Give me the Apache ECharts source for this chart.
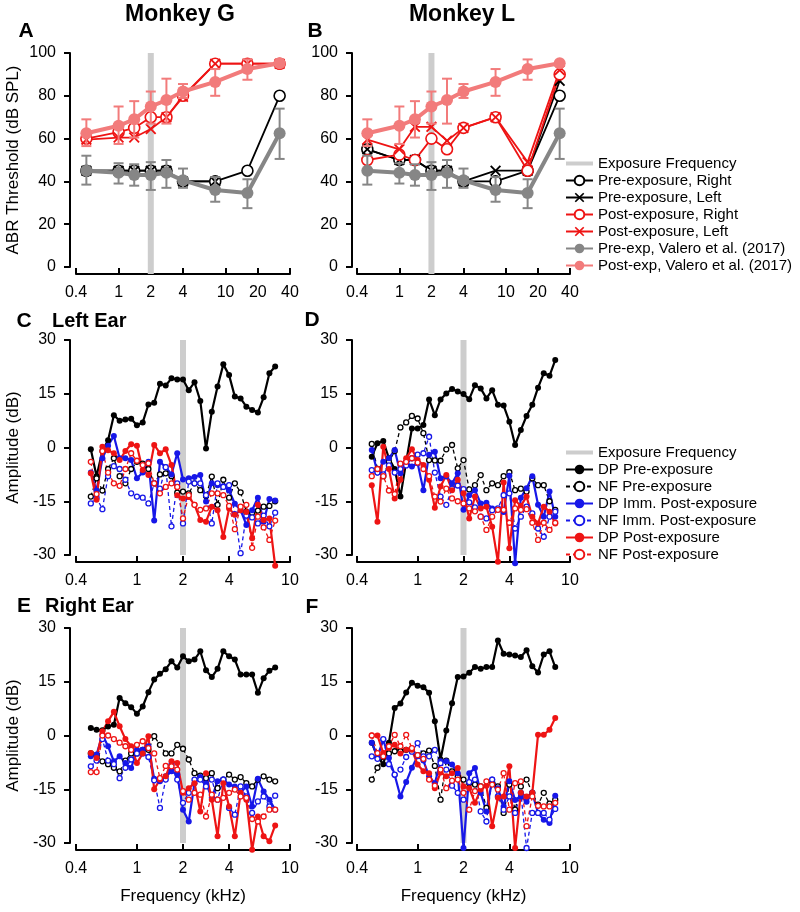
<!DOCTYPE html>
<html><head><meta charset="utf-8">
<script src="https://cdn.jsdelivr.net/npm/echarts@6/dist/echarts.min.js"></script>
<style>html,body{margin:0;padding:0;background:#fff}#chart{width:800px;height:912px}</style>
</head><body><div id="chart"></div>
<script>
// ---------- ABR data (panels A, B) ----------
const abrFreqs = [0.5, 1, 1.4, 2, 2.8, 4, 8, 16, 32];
const abrTicks = [0.4, 1, 2, 4, 10, 20, 40];
const exposureFreq = 2;

const gPreRight  = [45, 45, 45, 45, 45, 40, 40, 45, 80];
const gPreLeft   = [45, 45, 45, 45, 45, 40, 40, null, null];
const gPostRight = [60, 63, 65, 70, 70, 80, 95, 95, 95];
const gPostLeft  = [59.5, 60.5, 60.5, 64.5, 70, 79.5, 95, 95, 95];

const lPreRight  = [55, 50, 50, 45, 45, 40, 40, 45, 80];
const lPreLeft   = [55, 50, 50, 45, 45, 40, 45, 45, 87];
const lPostRight = [50, 52.5, 50, 60, 55, 65, 70, 45, 90];
const lPostLeft  = [59.5, 55, 65.5, 65.5, 59, 65, 70, 49, 92];

const valeroPre   = [45, 44, 43, 43, 44, 40.5, 36, 34.6, 62.5];
const valeroPreLo = [38.5, 39, 38, 36, 37, 37, 30.5, 27.5, 50.5];
const valeroPreHi = [52, 48.5, 48, 49, 50, 46, 42, 41, 74];
const valeroPost   = [62.5, 66, 69, 75, 78, 82, 86.5, 92.5, 95.2];
const valeroPostLo = [56.5, 57.5, 60.5, 67, 67, 79, 80, 87.5, null];
const valeroPostHi = [69, 75, 77.5, 82, 88, 85.5, 92.5, 97, null];

// ---------- DPOAE data (panels C-F) ----------
const dpFreqs = [0.5, 0.545, 0.595, 0.648, 0.707, 0.771, 0.841, 0.917, 1.0, 1.091, 1.189, 1.297, 1.414,
  1.542, 1.682, 1.834, 2.0, 2.181, 2.378, 2.594, 2.828, 3.084, 3.364, 3.668, 4.0, 4.362, 4.757, 5.187,
  5.657, 6.169, 6.727, 7.336, 8.0];
const dpTicks = [0.4, 1, 2, 4, 10];

// C: Monkey G, left ear
const cDpPre  = [-0.5, -8, -1, 2, 9, 7.5, 7.8, 8, 6.2, 7, 12, 12.5, 17.8, 17.3, 19.3, 19, 19, 16, 18.2, 13, -0.3, 10, 17, 23.2, 20.2, 14.2, 13.7, 11.4, 10.5, 9.8, 14, 20.7, 22.6];
const cNfPre  = [-13.7, -8.6, -12, -6, -3, -8, -10, -6, -4, -4.5, -6, -10, -7.5, -7.2, -8, -12.6, -12.3, -12.8, -10, -11.9, -13.5, -8.1, -16, -9, -14, -10, -12.5, -18, -18.2, -17.6, -16.5, -16.3, -15];
const cDpImm  = [-7, -12, -3, 0.5, 3.2, -3, -3, -3.5, -8.6, -7, -4, -20.4, -4, -5.5, -7.5, -1.6, -8.9, -8.6, -8.2, -7.7, -15.1, -10, -10.5, -10.8, -12, -15.7, -17.5, -21.6, -17.5, -14, -20.7, -14.4, -14.8];
const cNfImm  = [-15.6, -14, -17.2, -8, -5.2, -6, -9, -12.8, -13.7, -14, -15.6, -10, -11.5, -5.5, -22, -10, -21.2, -9.5, -10, -10, -13.3, -21.2, -10, -11, -10.5, -18.6, -29.5, -19, -19.5, -21.2, -19, -22, -18.2];
const cDpPost = [-7.2, -14.6, 0.2, -0.8, -1.6, -3.5, -1, 0.9, 0.5, -6.3, -7.7, 0.7, -1.6, -0.5, -4.9, -13.3, -14.2, -13.8, -16, -20.2, -20.7, -16.5, -17.5, -25, -17, -18.8, -17.5, -18, -25.3, -16, -20.2, -19.8, -33];
const cNfPost = [-4, -13, -1, -7, -10, -10.7, -6, -1.6, -3.7, -4.9, -4.4, -10, -12.8, -11, -10, -11, -19.8, -13.3, -16, -17.4, -17, -12.8, -12.8, -13.3, -16.3, -22.8, -16.5, -16, -28, -19.3, -22.3, -25.8, -20.4];

// D: Monkey L, left ear
const dDpPre  = [-2.6, 1.2, 1.8, -3, -6, -13.7, -4, 5.3, 5.3, 6.3, 13.4, 9, 13.4, 15.1, 16.3, 15.6, 14.9, 13.5, 17.4, 16.5, 13.7, 16, 11.9, 11.7, 7.2, 0.7, 4.9, 8.8, 11.9, 16.7, 20.7, 20, 24.4];
const dNfPre  = [1, -6, -8, -4, -1, 5.6, 7, 8.8, 8.1, 4, -3.5, -3.6, -3.7, -0.5, 0.7, -5.8, -3.5, -11.7, -10.5, -7.7, -11.9, -10, -10.5, -8, -6.9, -11.9, -11.5, -12.3, -8.6, -10.5, -10.5, -15, -17.4];
const dDpImm  = [-0.7, -7, -4, -3, -0.7, -7.2, -4, -5.3, -4.4, -11.9, -2, -1.2, -8.6, -8.1, -10, -7.2, -17.4, -13.3, -11.9, -15.6, -15.4, -17, -17.4, -18, -7.9, -32.3, -14, -11.4, -8, -16, -19.3, -12.3, -19.3];
const dNfImm  = [-6.3, -7, -7.5, -5, -7, -6, -5, -3, -2, -1.6, 3, -7, -13.7, -16, -11.5, -10.6, -11.6, -15.3, -16.7, -19.3, -19.8, -17.5, -17, -13.3, -12.8, -22.6, -19.3, -16.5, -18.4, -22.6, -24.9, -19.3, -17.9];
const dDpPost = [-10.5, -20.7, 0.2, -6, -14.2, -9, -3, -0.5, -3.5, -4.9, -9, -16.8, -10.9, -7.7, -11.9, -9, -12.8, -19.8, -13.7, -17, -16.5, -22.1, -31.9, -9.8, -28.1, -14.7, -16.3, -13.7, -19.3, -21.2, -16.5, -17.9, -21.2];
const dNfPost = [-8, -6, -8, -12, -13, -4.5, -4, -3, -4.2, -6, -8, -13.7, -15.1, -11.5, -14.2, -15, -15.6, -17, -17.8, -19.3, -23, -19.3, -17.4, -17.4, -21, -17, -17.4, -17.2, -21, -25.8, -21, -23, -21];

// E: Monkey G, right ear
const eDpPre  = [2.1, 1.6, 1.5, 2.5, 3, 10.5, 9, 7.9, 6.1, 8.1, 12.1, 15.6, 17.2, 18.5, 20.7, 19, 22.1, 20.7, 21.2, 23.5, 18.2, 16.3, 18.6, 23.5, 22.1, 21.2, 17, 17, 17, 11.9, 16, 18.1, 19];
const eNfPre  = [-5, -5.5, -7.2, -8, -9, -10, -7, -5, -5, -4, -4, -0.2, -2.6, -5, -5, -2.6, -3.7, -6.7, -10.5, -11.2, -11.9, -10.5, -14.7, -12.3, -10.9, -12.3, -11.6, -13.3, -14.2, -12.3, -11.4, -12.3, -12.8];
const eDpImm  = [-5.8, -5.3, 0.2, -3, -7.2, -5.8, -7.7, -9.1, -4, -4, -3, -12.1, -12.8, -11.4, -10, -10.9, -20.7, -24, -13.3, -11.6, -13.3, -17.4, -12.8, -12.3, -13.7, -14.2, -16, -14.2, -19.8, -12.1, -15.6, -17.9, -20.7];
const eNfImm  = [-8.6, -7, -1, -7, -8, -11.9, -9, -6.7, -5, -5, -6, -12.5, -20.2, -12.3, -8.1, -12.3, -18.8, -16, -12.3, -12.3, -14.2, -12.3, -17.9, -12.3, -20.2, -22.1, -14.2, -17, -21.6, -18.4, -17, -19.8, -16.8];
const eDpPost = [-4.9, -6.3, 1.2, 4, 6.6, 2.6, -1, -3, -7.7, -5, -0.2, -15, -12.3, -11.4, -7.2, -7.7, -16, -14.7, -13.3, -21.2, -10.5, -17.9, -28.1, -13.3, -19.8, -28.1, -16, -17.9, -31.9, -22.6, -28.1, -29.5, -25.1];
const eNfPost = [-10.2, -10.2, 0, 0, -1, -2, -3, -4, -2.6, -1.6, -3.5, -5, -11.9, -8.5, -8.6, -9.5, -15.5, -17.9, -16, -16.5, -22.6, -16.5, -17.9, -17.4, -16, -15.1, -17, -17.4, -23.3, -24, -22.6, -20.7, -20.7];

// F: Monkey L, right ear
const fDpPre  = [-2, -6, -8, -2, 7.7, 8.9, 12, 14.7, 13.9, 13.5, 11.9, 4, -6.7, 1.4, 9, 16.3, 16.5, 17.5, 19.1, 18.6, 19.1, 19.1, 26.5, 22.8, 22.6, 22.3, 21.9, 23.8, 19.3, 17.6, 22.6, 23.5, 19.1];
const fNfPre  = [-12.3, -9, -6, -5, -4.4, -4.4, -4, -4, -5.5, -5, -4.2, -8.5, -17.9, -7, -10, -11.5, -12.3, -13.3, -13.7, -14.2, -20.2, -13.1, -14.2, -21.6, -13.7, -20.7, -14.2, -12.3, -16, -19.3, -16, -19, -17.9];
const fDpImm  = [-2, -5.8, -1.2, -6.3, -11, -17, -13, -9, -5.8, -7, -11.4, -13.3, -7.2, -7.2, -8.1, -10.5, -31.4, -10.5, -9.1, -16, -21.2, -12.3, -14.7, -19.8, -12.8, -18, -17, -18.5, -16, -21.6, -23.5, -24.4, -16.8];
const fNfImm  = [-5.8, -6.5, -1, -8, -10.9, -9.5, -6, -4.5, -2.1, -5.8, -5.8, -4, -7.7, -9.5, -14, -16, -17.9, -13, -12.3, -21.2, -24, -12.3, -17, -20.7, -17, -21.6, -16, -31.4, -21.6, -21.6, -21.6, -23.5, -20.5];
const fDpPost = [0, 0, -4.9, -3.5, -2.6, -5, -4, -4, -8.1, -10, -10.5, -14.7, -10.3, -11.4, -10.5, -9.1, -14.2, -14.7, -18.8, -15.1, -14, -25.3, -17.4, -17, -8.6, -31.4, -16, -17, -16, 0.2, 0.2, 1.6, 4.9];
const fNfPost = [0, -4.9, -5.8, -3, 0.2, -3, 0.2, -3.5, -5.5, -6.5, -12.3, -14, -9.5, -14.7, -12.6, -12.3, -16, -20.7, -15.5, -14.2, -12.8, -13.7, -15.1, -10.5, -20.7, -13.3, -12.8, -25.3, -17, -19.6, -19.8, -19.8, -18.8];

// ---------- styling ----------
const FONT = '"Liberation Sans", Arial, Helvetica, sans-serif';
const COL = { black: '#000000', red: '#ee1414', blue: '#1717e8', gray: '#868686', pink: '#f27b7b', expo: '#cdcdcd' };
const X_PATH = 'path://M0,1.2L1.2,0L5,3.8L8.8,0L10,1.2L6.2,5L10,8.8L8.8,10L5,6.2L1.2,10L0,8.8L3.8,5Z';

const lx = f => Math.log10(f);
function pts(freqs, vals) {
  const out = [];
  freqs.forEach((f, i) => { if (vals[i] !== null && vals[i] !== undefined) out.push([lx(f), vals[i]]); });
  return out;
}
function errPts(freqs, lo, hi) {
  const out = [];
  freqs.forEach((f, i) => { if (lo[i] !== null && hi[i] !== null) out.push([lx(f), lo[i], hi[i]]); });
  return out;
}
function tickLabel(v, ticks) {
  for (const t of ticks) if (Math.abs(lx(t) - v) < 1e-6) return String(t);
  return '';
}

const grids = [
  { left: 76, top: 53, width: 214, height: 214 },
  { left: 357, top: 53, width: 213, height: 214 },
  { left: 76, top: 340, width: 214, height: 215 },
  { left: 357, top: 340, width: 213, height: 215 },
  { left: 76, top: 628, width: 214, height: 215 },
  { left: 357, top: 628, width: 213, height: 215 }
];
const axisLineStyle = { color: '#000', width: 2 };
const labelStyle = { fontSize: 16, color: '#000', fontFamily: FONT };

function xAx(gi, ticks, offset, name) {
  const cv = ticks.map(lx);
  return {
    gridIndex: gi, type: 'value', min: lx(ticks[0]), max: lx(ticks[ticks.length - 1]), offset: offset,
    axisLine: { show: true, onZero: false, lineStyle: axisLineStyle },
    axisTick: { show: true, inside: true, customValues: cv, length: 6, lineStyle: axisLineStyle },
    axisLabel: Object.assign({ customValues: cv, margin: 11, formatter: v => tickLabel(v, ticks) }, labelStyle),
    splitLine: { show: false },
    name: name || '', nameLocation: 'middle', nameGap: 38,
    nameTextStyle: { fontSize: 17, color: '#000', fontFamily: FONT }
  };
}
function yAx(gi, min, max, interval, offset, name) {
  return {
    gridIndex: gi, type: 'value', min: min, max: max, interval: interval, offset: offset,
    axisLine: { show: true, onZero: false, lineStyle: axisLineStyle },
    axisTick: { show: true, length: 6, lineStyle: axisLineStyle },
    axisLabel: Object.assign({ margin: 14 }, labelStyle),
    splitLine: { show: false },
    name: name || '', nameLocation: 'middle', nameGap: 48,
    nameTextStyle: { fontSize: 17, color: '#000', fontFamily: FONT }
  };
}

function expoSeries(gi, lo, hi) {
  return { type: 'line', name: 'Exposure Frequency', xAxisIndex: gi, yAxisIndex: gi, clip: false,
    data: [[lx(exposureFreq), lo], [lx(exposureFreq), hi]], symbol: 'none', z: 1, silent: true,
    lineStyle: { color: COL.expo, width: 6 }, itemStyle: { color: COL.expo } };
}
function abrSeries(gi, name, vals, color, marker) {
  const s = { type: 'line', name: name, xAxisIndex: gi, yAxisIndex: gi, data: pts(abrFreqs, vals),
    lineStyle: { color: color, width: 1.8 }, z: 3 };
  if (marker === 'o') {
    s.symbol = 'circle'; s.symbolSize = 11;
    s.itemStyle = { color: '#fff', borderColor: color, borderWidth: 1.6 };
  } else {
    s.symbol = X_PATH; s.symbolSize = 11;
    s.itemStyle = { color: color, borderWidth: 0 };
  }
  return s;
}
function valeroSeries(gi, name, vals, color) {
  return { type: 'line', name: name, xAxisIndex: gi, yAxisIndex: gi, data: pts(abrFreqs, vals),
    symbol: 'circle', symbolSize: 12, z: 5,
    lineStyle: { color: color, width: 4 }, itemStyle: { color: color } };
}
function errSeries(gi, lo, hi, color) {
  return { type: 'custom', name: 'err', xAxisIndex: gi, yAxisIndex: gi, z: 5,
    data: errPts(abrFreqs, lo, hi), encode: { x: 0, y: [1, 2] },
    renderItem: function (params, api) {
      const x = api.value(0);
      const p1 = api.coord([x, api.value(1)]);
      const p2 = api.coord([x, api.value(2)]);
      const w = 5;
      const st = { stroke: color, lineWidth: 2 };
      return { type: 'group', children: [
        { type: 'line', shape: { x1: p1[0], y1: p1[1], x2: p2[0], y2: p2[1] }, style: st },
        { type: 'line', shape: { x1: p1[0] - w, y1: p1[1], x2: p1[0] + w, y2: p1[1] }, style: st },
        { type: 'line', shape: { x1: p2[0] - w, y1: p2[1], x2: p2[0] + w, y2: p2[1] }, style: st }
      ] };
    } };
}
function dpLine(gi, name, vals, color, nf) {
  const s = { type: 'line', name: name, xAxisIndex: gi, yAxisIndex: gi, data: pts(dpFreqs, vals),
    clip: false, connectNulls: true, z: 3 };
  if (nf) {
    s.symbol = 'circle'; s.symbolSize = 5;
    s.lineStyle = { color: color, width: 1.3, type: [4, 3] };
    s.itemStyle = { color: '#fff', borderColor: color, borderWidth: 1.3 };
  } else {
    s.symbol = 'circle'; s.symbolSize = 6;
    s.lineStyle = { color: color, width: 2.2 };
    s.itemStyle = { color: color };
  }
  return s;
}
function dpPanel(gi, dpPre, nfPre, dpImm, nfImm, dpPost, nfPost) {
  return [
    expoSeries(gi, -30, 30),
    dpLine(gi, 'DP Pre-exposure', dpPre, COL.black, false),
    dpLine(gi, 'NF Pre-exposure', nfPre, COL.black, true),
    dpLine(gi, 'DP Imm. Post-exposure', dpImm, COL.blue, false),
    dpLine(gi, 'NF Imm. Post-exposure', nfImm, COL.blue, true),
    dpLine(gi, 'DP Post-exposure', dpPost, COL.red, false),
    dpLine(gi, 'NF Post-exposure', nfPost, COL.red, true)
  ];
}
function abrPanel(gi, preR, preL, postR, postL) {
  return [
    expoSeries(gi, -3.3, 100),
    abrSeries(gi, 'Pre-exposure, Right', preR, COL.black, 'o'),
    abrSeries(gi, 'Pre-exposure, Left', preL, COL.black, 'x'),
    abrSeries(gi, 'Post-exposure, Right', postR, COL.red, 'o'),
    abrSeries(gi, 'Post-exposure, Left', postL, COL.red, 'x'),
    errSeries(gi, valeroPreLo, valeroPreHi, COL.gray),
    valeroSeries(gi, 'Pre-exp, Valero et al. (2017)', valeroPre, COL.gray),
    errSeries(gi, valeroPostLo, valeroPostHi, COL.pink),
    valeroSeries(gi, 'Post-exp, Valero et al. (2017)', valeroPost, COL.pink)
  ];
}

const series = [].concat(
  abrPanel(0, gPreRight, gPreLeft, gPostRight, gPostLeft),
  abrPanel(1, lPreRight, lPreLeft, lPostRight, lPostLeft),
  dpPanel(2, cDpPre, cNfPre, cDpImm, cNfImm, cDpPost, cNfPost),
  dpPanel(3, dDpPre, dNfPre, dDpImm, dNfImm, dDpPost, dNfPost),
  dpPanel(4, eDpPre, eNfPre, eDpImm, eNfImm, eDpPost, eNfPost),
  dpPanel(5, fDpPre, fNfPre, fDpImm, fNfImm, fDpPost, fNfPost)
);

const legendText = { fontSize: 15, color: '#000', fontFamily: FONT };
const expoIcon = { name: 'Exposure Frequency', icon: 'path://M0,0H27V4H0Z' };

function txt(text, x, y, size, align) {
  return { type: 'text', x: x, y: y, silent: true,
    style: { text: text, font: 'bold ' + size + 'px ' + FONT, fill: '#000',
      textAlign: align, align: align, textVerticalAlign: 'middle', verticalAlign: 'middle' } };
}

const option = {
  animation: false,
  backgroundColor: '#fff',
  grid: grids,
  xAxis: [
    xAx(0, abrTicks, 7), xAx(1, abrTicks, 7),
    xAx(2, dpTicks, 7), xAx(3, dpTicks, 7),
    xAx(4, dpTicks, 7, 'Frequency (kHz)'), xAx(5, dpTicks, 7, 'Frequency (kHz)')
  ],
  yAxis: [
    yAx(0, 0, 100, 20, 6, 'ABR Threshold (dB SPL)'), yAx(1, 0, 100, 20, 5),
    yAx(2, -30, 30, 15, 6, 'Amplitude (dB)'), yAx(3, -30, 30, 15, 5),
    yAx(4, -30, 30, 15, 6, 'Amplitude (dB)'), yAx(5, -30, 30, 15, 5)
  ],
  legend: [
    { orient: 'vertical', left: 565, top: 156, padding: 0, itemWidth: 27, itemHeight: 12, itemGap: 2,
      selectedMode: false, textStyle: legendText,
      data: [expoIcon, 'Pre-exposure, Right', 'Pre-exposure, Left', 'Post-exposure, Right',
        'Post-exposure, Left', 'Pre-exp, Valero et al. (2017)', 'Post-exp, Valero et al. (2017)'] },
    { orient: 'vertical', left: 565, top: 445, padding: 0, itemWidth: 27, itemHeight: 12, itemGap: 2,
      selectedMode: false, textStyle: legendText,
      data: [expoIcon, 'DP Pre-exposure', 'NF Pre-exposure', 'DP Imm. Post-exposure',
        'NF Imm. Post-exposure', 'DP Post-exposure', 'NF Post-exposure'] }
  ],
  graphic: [
    txt('Monkey G', 180, 15, 23, 'center'),
    txt('Monkey L', 462, 15, 23, 'center'),
    txt('A', 26, 31, 21, 'center'),
    txt('B', 315, 31, 21, 'center'),
    txt('C', 24, 321, 21, 'center'),
    txt('Left Ear', 52, 321, 20, 'left'),
    txt('D', 312, 320, 21, 'center'),
    txt('E', 24, 606, 21, 'center'),
    txt('Right Ear', 45, 606, 20, 'left'),
    txt('F', 312, 607, 21, 'center')
  ],
  series: series
};

const chart = echarts.init(document.getElementById('chart'));
chart.setOption(option);
</script>
</body></html>
